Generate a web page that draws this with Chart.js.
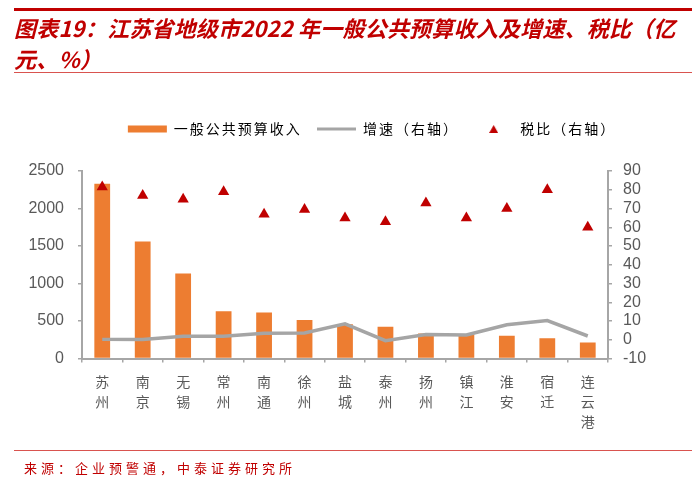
<!DOCTYPE html>
<html>
<head>
<meta charset="utf-8">
<script src="https://cdn.jsdelivr.net/npm/chart.js@4"></script>
<style>
  body { margin: 0; background: #fff; }
  #wrap { position: relative; width: 700px; height: 491px; overflow: hidden; }
  #chart { position: absolute; left: 0; top: 0; }
  .rule { position: absolute; left: 14px; width: 678px; }
  #title {
    position: absolute; left: 14px; top: 12px; white-space: nowrap;
    font-family: "Noto Sans CJK SC", sans-serif; font-weight: 700; font-style: italic;
    font-size: 22px; line-height: 31px; letter-spacing: 0.2px; color: #C00000;
  }
  #source {
    position: absolute; left: 24px; top: 458px;
    font-family: "Noto Sans CJK SC", sans-serif; font-size: 13px; letter-spacing: 4px; color: #C00000;
  }
</style>
</head>
<body>
<div id="wrap">
  <canvas id="chart" width="700" height="491"></canvas>
  <div class="rule" style="top:8px;height:3px;background:#C00000"></div>
  <div id="title">图表19：江苏省地级市2022 年一般公共预算收入及增速、税比（亿<br>元、%）</div>
  <div class="rule" style="top:72px;height:1px;background:#D9534F"></div>
  <div class="rule" style="top:450px;height:1px;background:#D9534F"></div>
  <div id="source">来源：企业预警通，中泰证券研究所</div>
</div>
<script>
const cities = ['苏州', '南京', '无锡', '常州', '南通', '徐州', '盐城', '泰州', '扬州', '镇江', '淮安', '宿迁', '连云港'];
const revenue = [2330, 1560, 1135, 630, 615, 515, 458, 422, 335, 325, 302, 271, 214];
const growth = [0.2, 0.1, 1.9, 1.9, 3.5, 3.6, 8.5, -0.5, 2.8, 2.5, 8, 10.2, 2];
const taxRatio = [81.5, 77, 75, 79, 67, 69.5, 65, 63, 73, 65, 70, 80, 60];

const leftTicks = [0, 500, 1000, 1500, 2000, 2500];
const rightTicks = [-10, 0, 10, 20, 30, 40, 50, 60, 70, 80, 90];

const grey = '#595959';
const axisGrey = '#A6A6A6';

// small triangle for the legend (the built-in one gets stretched by pointStyleWidth)
const legendTri = document.createElement('canvas');
legendTri.width = 9;
legendTri.height = 8;
const tctx = legendTri.getContext('2d');
tctx.fillStyle = '#C00000';
tctx.beginPath();
tctx.moveTo(4.5, 0);
tctx.lineTo(9, 8);
tctx.lineTo(0, 8);
tctx.closePath();
tctx.fill();

// extra room under the legend, wider letter spacing, nudge it right a bit
const legendTweak = {
  id: 'legendTweak',
  beforeInit(chart) {
    const legend = chart.legend;
    const fit = legend.fit;
    const draw = legend.draw;
    legend.fit = function () {
      chart.ctx.letterSpacing = '2px';
      fit.call(this);
      chart.ctx.letterSpacing = '0px';
      this.height += 25;
    };
    legend.draw = function (area) {
      const c = chart.ctx;
      c.save();
      c.translate(22, 0);
      c.letterSpacing = '2px';
      draw.call(this, area);
      c.letterSpacing = '0px';
      c.restore();
    };
  }
};

const ctx = document.getElementById('chart');
new Chart(ctx, {
  data: {
    labels: cities.map(c => c.split('')),
    datasets: [
      {
        type: 'line',
        label: '税比（右轴）',
        data: taxRatio,
        yAxisID: 'y1',
        showLine: false,
        pointStyle: 'triangle',
        pointRadius: 6.5,
        pointBackgroundColor: '#C00000',
        pointBorderColor: '#C00000',
        pointBorderWidth: 0,
        order: 1
      },
      {
        type: 'line',
        label: '增速（右轴）',
        data: growth,
        yAxisID: 'y1',
        borderColor: '#A5A5A5',
        borderWidth: 3.5,
        pointRadius: 0,
        tension: 0,
        order: 2
      },
      {
        type: 'bar',
        label: '一般公共预算收入',
        data: revenue,
        yAxisID: 'y',
        backgroundColor: '#ED7D31',
        categoryPercentage: 1,
        barPercentage: 0.39,
        order: 3
      }
    ]
  },
  options: {
    responsive: false,
    animation: false,
    layout: { padding: { top: 112, left: 0, right: 0, bottom: 0 } },
    plugins: {
      tooltip: { enabled: false },
      legend: {
        display: true,
        position: 'top',
        labels: {
          usePointStyle: true,
          pointStyleWidth: 39,
          boxHeight: 7,
          padding: 10,
          color: grey,
          font: { family: 'Noto Sans CJK SC', size: 14 },
          generateLabels: () => [
            { text: '一般公共预算收入 ', fillStyle: '#ED7D31', strokeStyle: '#ED7D31', lineWidth: 0, pointStyle: 'rect', datasetIndex: 2 },
            { text: '增速（右轴） ', fillStyle: '#A5A5A5', strokeStyle: '#A5A5A5', lineWidth: 3, pointStyle: 'line', datasetIndex: 1 },
            { text: '税比（右轴）', fillStyle: '#C00000', strokeStyle: '#C00000', lineWidth: 0, pointStyle: legendTri, datasetIndex: 0 }
          ]
        }
      }
    },
    scales: {
      x: {
        afterFit(scale) { scale.height = 132.5; },
        grid: { drawOnChartArea: false, tickLength: 4, color: axisGrey, lineWidth: 1.5 },
        border: { color: axisGrey, width: 2 },
        ticks: {
          maxRotation: 0,
          autoSkip: false,
          padding: 9,
          color: grey,
          font: { family: 'Noto Sans CJK SC', size: 14, lineHeight: 1.43 }
        }
      },
      y: {
        position: 'left',
        min: 0,
        max: 2500,
        afterFit(scale) { scale.width = 82; },
        afterBuildTicks(scale) { scale.ticks = leftTicks.map(v => ({ value: v })); },
        grid: { drawOnChartArea: false, tickLength: 4, color: axisGrey, lineWidth: 1.5 },
        border: { color: axisGrey, width: 2 },
        ticks: {
          autoSkip: false,
          padding: 14,
          color: grey,
          font: { family: 'Liberation Sans', size: 16 },
          callback: v => String(v)
        }
      },
      y1: {
        position: 'right',
        min: -10,
        max: 90,
        afterFit(scale) { scale.width = 92; },
        afterBuildTicks(scale) { scale.ticks = rightTicks.map(v => ({ value: v })); },
        grid: { drawOnChartArea: false, tickLength: 4, color: axisGrey, lineWidth: 1.5 },
        border: { color: axisGrey, width: 2 },
        ticks: {
          autoSkip: false,
          padding: 11,
          color: grey,
          font: { family: 'Liberation Sans', size: 16 },
          callback: v => String(v)
        }
      }
    }
  },
  plugins: [legendTweak]
});
</script>
</body>
</html>
